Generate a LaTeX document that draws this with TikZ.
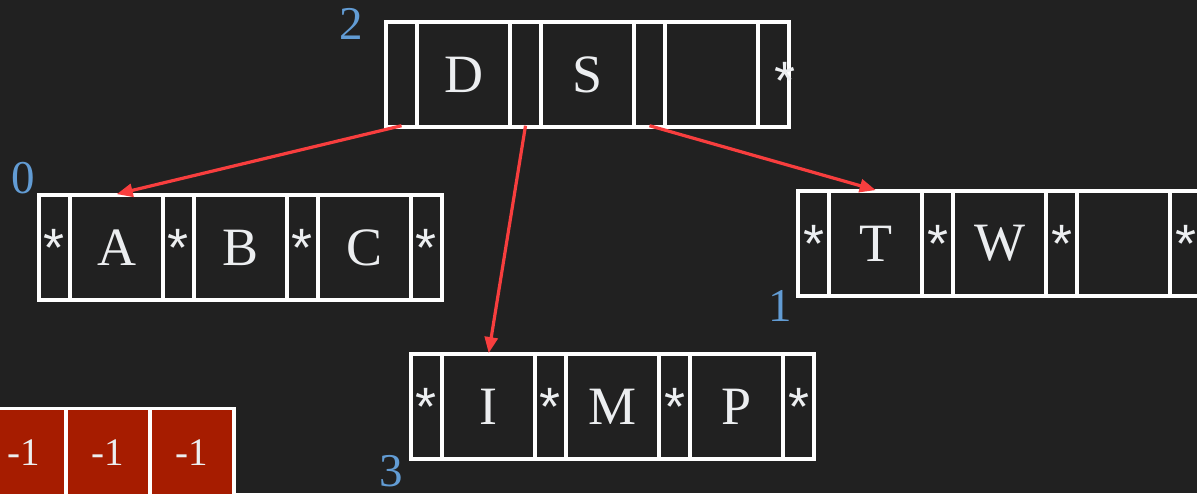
\documentclass[tikz,border=0pt]{standalone}
\usepackage{fontspec}
\setmainfont{Liberation Serif}
\newfontfamily\starfont{Liberation Sans}
\usetikzlibrary{arrows.meta,calc}

\definecolor{bg}{RGB}{33,33,33}
\definecolor{idxblue}{RGB}{98,156,212}
\definecolor{linkred}{RGB}{248,62,62}
\definecolor{slotred}{RGB}{166,28,0}
\definecolor{ink}{RGB}{236,238,240}

\tikzset{
  cellbase/.style={draw=white, line width=2.2pt, inner sep=0pt, outer sep=0pt, anchor=north west},
  frame/.style={cellbase, minimum width=404.8pt, minimum height=106.8pt},
  ptrcell/.style={cellbase, minimum width=28.4pt, minimum height=102.4pt, text=ink,
    font=\starfont\fontsize{54}{60}\selectfont},
  keycell/.style={cellbase, minimum width=91.2pt, minimum height=102.4pt, text=ink,
    font=\fontsize{54}{60}\selectfont},
  startext/.style={inner sep=0pt, text=ink, font=\starfont\fontsize{54}{60}\selectfont},
  idx/.style={inner sep=0pt, text=idxblue, font=\fontsize{47}{52}\selectfont},
  link/.style={draw=linkred, line width=3.2pt, -{Triangle[length=16pt,width=13pt]}},
  slot/.style={draw=white, fill=slotred, line width=3.5pt, minimum width=84pt,
    minimum height=87.5pt, inner sep=0pt, text=ink, font=\fontsize{39}{44}\selectfont},
}

% B-tree page: #1 name, #2 left edge, #3 top edge,
% #4 the four pointer-cell texts, #5 the three key texts
\newcommand\bblock[5]{%
  \node[frame] (#1) at (#2+1.1,#3+1.1) {};
  \foreach \s [count=\j from 0] in {#4}{
    \node[ptrcell] (#1-p\j) at (#2+3.3+\j*124, #3+3.3) {\raisebox{-4pt}{\s}};
  }
  \foreach \k [count=\j from 1] in {#5}{
    \node[keycell] (#1-k\j) at (#2+34.1+\j*124-124, #3+3.3) {\k};
  }
}

\begin{document}
\begin{tikzpicture}[x=1pt,y=-1pt]
  \fill[bg] (0,0) rectangle (1197,493);
  \useasboundingbox (0,0) rectangle (1197,493);

  % pages
  \bblock{n2}{384}{20}{{},{},{},{}}{D,S,{}}
  \node[startext] (n2-star) at ($(n2-p3.center)+(11,6)$) {*};
  \bblock{n0}{37}{193}{*,*,*,*}{A,B,C}
  \bblock{n1}{796}{189}{*,*,*,*}{T,W,{}}
  \bblock{n3}{409}{352}{*,*,*,*}{I,M,P}

  % page numbers
  \node[idx] (l2) at (351,24) {2};
  \node[idx] (l0) at (23,178) {0};
  \node[idx] (l1) at (780,306) {1};
  \node[idx] (l3) at (391,471) {3};

  % child links
  \draw[link] (n2-p0.south) -- (n0-k1.north |- n0.north);
  \draw[link] (n2-p1.south) -- (n3-k1.north |- n3.north);
  \draw[link] (n2-p2.south) -- (n1-k1.north |- n1.north);

  % array of slots
  \node[slot] (s1) at (24,452.25) {-1};
  \node[slot] (s2) at (108,452.25) {-1};
  \node[slot] (s3) at (192,452.25) {-1};
\end{tikzpicture}
\end{document}
